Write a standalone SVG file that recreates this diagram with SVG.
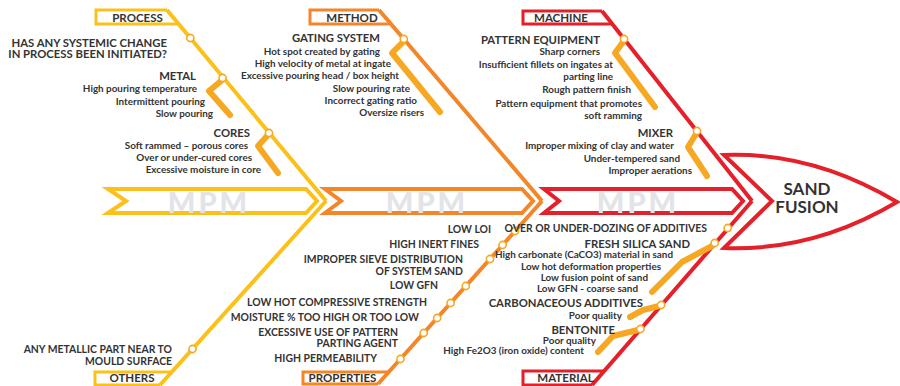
<svg xmlns="http://www.w3.org/2000/svg" width="900" height="386" viewBox="0 0 900 386">
<style>
text{font-family:Lato,"Liberation Sans","DejaVu Sans",sans-serif;fill:#333;font-weight:bold}
.h{font-size:11.3px}
.c{font-size:10.4px}
.s{font-size:9.9px}
.box{font-size:11.5px}
.e{text-anchor:end}
.m{text-anchor:middle}
.wm{font-size:29px;fill:#e2e4e7;letter-spacing:3px;text-anchor:middle;font-weight:900}
.y{stroke:#FBC11A}
.o{stroke:#F4862A}
.r{stroke:#E4212A}
.bone{fill:none;stroke-width:4;stroke-linejoin:miter}
.band{fill:#fff;stroke-width:4;stroke-linejoin:miter}
.br{fill:none;stroke:#F7A823;stroke-width:6;stroke-linecap:round;stroke-linejoin:round}
.dot{fill:#fff;stroke:#F7A823;stroke-width:1.6}
</style>
<rect width="900" height="386" fill="#fff"/>

<g id="spine">
  <polygon class="band y" points="108,189 306,189 317,201 306,213 108,213 126,201"/>
  <text class="wm" x="209" y="212.5">MPM</text>
  <polygon class="band o" points="325,189 522,189 533,201 522,213 325,213 341,201"/>
  <text class="wm" x="427" y="212.5">MPM</text>
  <polygon class="band r" points="544,189 732,189 743,201 732,213 544,213 559,201"/>
  <text class="wm" x="638" y="212.5">MPM</text>
</g>

<g id="connectors">
  <polyline class="bone y" points="167,10 326,201"/>
  <polyline class="bone y" points="160,385 326,201"/>
  <polyline class="bone o" points="379,10 542,201"/>
  <polyline class="bone o" points="378,384 542,201"/>
  <polyline class="bone r" points="602,11 752,201"/>
  <polyline class="bone r" points="592,385 752,201"/>
  <polyline class="br" points="221,81 209,91 230,115"/>
  <polyline class="br" points="267,136 258,146 278,173"/>
  <polyline class="br" points="403,42 392,53 440,112"/>
  <polyline class="br" points="623,42 615,53 655,107"/>
  <polyline class="br" points="696,134 688,147 707,176"/>
  <polyline class="br" points="712,246 682,262 652,292"/>
  <polyline class="br" points="659,306 643,310 630,317"/>
  <polyline class="br" points="638,330 613,336 598,352"/>
  <circle class="dot" cx="190.3" cy="38" r="3.6"/>
  <circle class="dot" cx="222.6" cy="78" r="3.6"/>
  <circle class="dot" cx="269" cy="133" r="3.6"/>
  <circle class="dot" cx="192.5" cy="349" r="3.6"/>
  <circle class="dot" cx="403.8" cy="39" r="3.6"/>
  <circle class="dot" cx="515" cy="231" r="3.6"/>
  <circle class="dot" cx="502.6" cy="245" r="3.6"/>
  <circle class="dot" cx="490" cy="259" r="3.6"/>
  <circle class="dot" cx="465.8" cy="286" r="3.6"/>
  <circle class="dot" cx="450.6" cy="303" r="3.6"/>
  <circle class="dot" cx="437.1" cy="318" r="3.6"/>
  <circle class="dot" cx="423.7" cy="333" r="3.6"/>
  <circle class="dot" cx="400.4" cy="359" r="3.6"/>
  <circle class="dot" cx="624" cy="39" r="3.6"/>
  <circle class="dot" cx="697" cy="131" r="3.6"/>
  <circle class="dot" cx="727.7" cy="228" r="3.6"/>
  <circle class="dot" cx="714.7" cy="243" r="3.6"/>
  <circle class="dot" cx="661.1" cy="305" r="3.6"/>
  <circle class="dot" cx="640.4" cy="329" r="3.6"/>
</g>

<g id="process">
  <polyline class="bone y" style="stroke-width:3" points="167,10 96,10 96,24 179,24"/>
  <text class="box m" x="137.5" y="22">PROCESS</text>
  <text class="h e" x="167" y="46.5">HAS ANY SYSTEMIC CHANGE</text>
  <text class="h e" x="167" y="57.5">IN PROCESS BEEN INITIATED?</text>
  <text class="h e" x="196" y="80">METAL</text>
  <text class="s e" x="197" y="92">High pouring temperature</text>
  <text class="s e" x="205" y="104.5">Intermittent pouring</text>
  <text class="s e" x="213" y="117">Slow pouring</text>
  <text class="h e" x="250" y="137">CORES</text>
  <text class="s e" x="248" y="149">Soft rammed – porous cores</text>
  <text class="s e" x="252" y="161">Over or under-cured cores</text>
  <text class="s e" x="261" y="172.5">Excessive moisture in core</text>
</g>

<g id="others">
  <polyline class="bone y" style="stroke-width:3" points="172,372 95,372 95,385 160,385"/>
  <text class="box m" x="132" y="382">OTHERS</text>
  <text class="c e" x="172" y="353">ANY METALLIC PART NEAR TO</text>
  <text class="c e" x="172" y="364.5">MOULD SURFACE</text>
</g>

<g id="method">
  <polyline class="bone o" style="stroke-width:3" points="379,10 310,10 310,24 391,24"/>
  <text class="box m" x="352" y="22">METHOD</text>
  <text class="h e" x="380" y="42">GATING SYSTEM</text>
  <text class="s e" x="380" y="55">Hot spot created by gating</text>
  <text class="s e" x="391" y="67">High velocity of metal at ingate</text>
  <text class="s e" x="399" y="79">Excessive pouring head / box height</text>
  <text class="s e" x="410" y="92">Slow pouring rate</text>
  <text class="s e" x="417" y="103.5">Incorrect gating ratio</text>
  <text class="s e" x="424" y="115.5">Oversize risers</text>
</g>

<g id="properties">
  <polyline class="bone o" style="stroke-width:3" points="389,372 303,372 303,384 378,384"/>
  <text class="box m" x="342.5" y="381.5">PROPERTIES</text>
  <text class="c e" x="491" y="233">LOW LOI</text>
  <text class="c e" x="479" y="248">HIGH INERT FINES</text>
  <text class="c e" x="463" y="263">IMPROPER SIEVE DISTRIBUTION</text>
  <text class="c e" x="463" y="275">OF SYSTEM SAND</text>
  <text class="c e" x="438" y="289">LOW GFN</text>
  <text class="c e" x="427" y="306">LOW HOT COMPRESSIVE STRENGTH</text>
  <text class="c e" x="419" y="321">MOISTURE % TOO HIGH OR TOO LOW</text>
  <text class="c e" x="398" y="336">EXCESSIVE USE OF PATTERN</text>
  <text class="c e" x="398" y="347">PARTING AGENT</text>
  <text class="c e" x="377" y="362">HIGH PERMEABILITY</text>
</g>

<g id="machine">
  <polyline class="bone r" style="stroke-width:3" points="602,11 523,11 523,24 612,24"/>
  <text class="box m" x="561" y="22">MACHINE</text>
  <text class="h e" x="600" y="44">PATTERN EQUIPMENT</text>
  <text class="s e" x="600" y="55">Sharp corners</text>
  <text class="s e" x="613" y="68">Insufficient fillets on ingates at</text>
  <text class="s e" x="613" y="80">parting line</text>
  <text class="s e" x="631" y="93">Rough pattern finish</text>
  <text class="s e" x="642" y="107">Pattern equipment that promotes</text>
  <text class="s e" x="642" y="118.5">soft ramming</text>
  <text class="h e" x="673" y="137">MIXER</text>
  <text class="s e" x="674" y="149">Improper mixing of clay and water</text>
  <text class="s e" x="680" y="162">Under-tempered sand</text>
  <text class="s e" x="692" y="174">Improper aerations</text>
</g>

<g id="material">
  <polyline class="bone r" style="stroke-width:3" points="604,371 523,371 523,385 592,385"/>
  <text class="box m" x="565.5" y="381.5">MATERIAL</text>
  <text class="c e" x="707" y="232">OVER OR UNDER-DOZING OF ADDITIVES</text>
  <text class="h e" x="690" y="248">FRESH SILICA SAND</text>
  <text class="s e" x="673" y="258">High carbonate (CaCO3) material in sand</text>
  <text class="s e" x="661" y="270">Low hot deformation properties</text>
  <text class="s e" x="648" y="281">Low fusion point of sand</text>
  <text class="s e" x="638" y="292">Low GFN - coarse sand</text>
  <text class="h e" x="643" y="307">CARBONACEOUS ADDITIVES</text>
  <text class="s e" x="622" y="319">Poor quality</text>
  <text class="h e" x="615" y="333.5">BENTONITE</text>
  <text class="s e" x="596" y="343.5">Poor quality</text>
  <text class="s e" x="584" y="353.5">High Fe2O3 (iron oxide) content</text>
</g>

<g id="sand-fusion">
  <path class="r" fill="#fff" stroke-width="4" stroke-linejoin="miter" d="M724,155 L772,201 L724,248 C800,251 860,224 897,202 C860,180 800,152 724,155 Z"/>
  <text class="m" style="font-size:17px" x="807" y="195">SAND</text>
  <text class="m" style="font-size:17px" x="807" y="213">FUSION</text>
</g>
</svg>
